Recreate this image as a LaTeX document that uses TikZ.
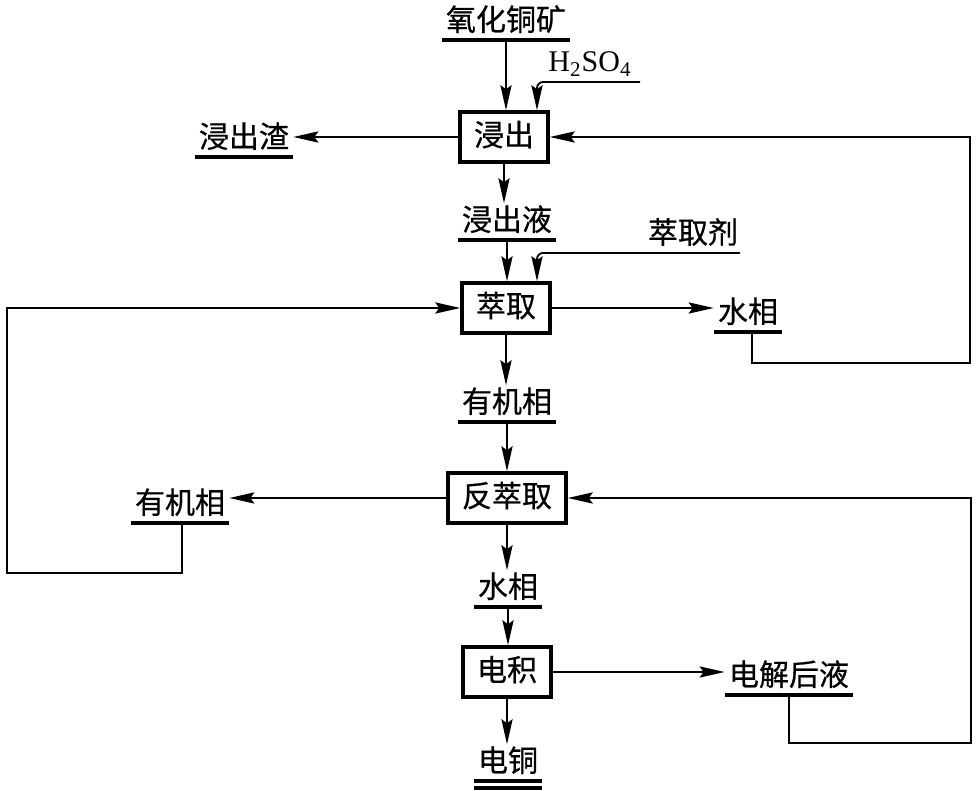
\documentclass[tikz,border=0pt]{standalone}
\usepackage{fontspec}
\setmainfont{Liberation Serif}
\newfontfamily\cjk[FakeBold=0.6]{Noto Sans CJK SC}
\usetikzlibrary{arrows.meta}

\begin{document}
\begin{tikzpicture}[x=0.5pt, y=-0.5pt, >={Stealth[length=12.5pt,width=5.6pt,inset=2pt]},
    every node/.style={font=\cjk\fontsize{15}{18}\selectfont},
    unit/.style={draw, line width=1.8pt, minimum height=25pt, inner xsep=7pt, text height=11pt, text depth=2pt},
    stream/.style={anchor=south, inner xsep=2pt, inner ysep=2.5pt, text height=11pt, text depth=2pt},
    flow/.style={line width=0.9pt},
    bar/.style={line width=1.6pt}]
    \useasboundingbox (0,0) rectangle (976,791);
    \node[unit] (leach) at (504,137) {浸出};
    \node[unit] (extr) at (506,308) {萃取};
    \node[unit] (strip) at (507,498) {反萃取};
    \node[unit] (ew) at (507,672) {电积};
    \node[stream] (ore) at (506,40) {氧化铜矿};
    \node[stream] (resid) at (244,157) {浸出渣};
    \node[stream] (pls) at (507,240) {浸出液};
    \node[stream] (aq1) at (748,332) {水相};
    \node[stream] (org1) at (507,422) {有机相};
    \node[stream] (org2) at (180,523) {有机相};
    \node[stream] (aq2) at (508,607) {水相};
    \node[stream] (spent) at (789,695) {电解后液};
    \node[stream] (cu) at (508,781) {电铜};
    \node[font=\rmfamily\fontsize{15}{18}\selectfont] (acid) at (590,64) {H\textsubscript{2}SO\textsubscript{4}};
    \node (reag) at (693,232) {萃取剂};
    \coordinate (acidend) at (640,82);
    \coordinate (reagend) at (740,253);
    \coordinate (east1) at (970,363);
    \coordinate (west1) at (7,573);
    \coordinate (east2) at (971,743);
    \foreach \n in {ore,resid,pls,aq1,org1,org2,aq2,spent,cu}
        \draw[bar] (\n.south west) -- (\n.south east);
    \draw[bar] ([yshift=-3.5pt]cu.south west) -- ([yshift=-3.5pt]cu.south east);
    \foreach \a/\b in {ore/leach,leach/pls,pls/extr,extr/org1,org1/strip,strip/aq2,aq2/ew,ew/cu}
        \draw[flow,->] (\a.south) -- (\a.south |- \b.north);
    \draw[flow,->] (leach.west) -- (resid.east |- leach.west);
    \draw[flow,->] (extr.east) -- (aq1.west |- extr.east);
    \draw[flow,->] (strip.west) -- (org2.east |- strip.west);
    \draw[flow,->] (ew.east) -- (spent.west |- ew.east);
    \draw[flow,->,rounded corners=3pt] (acidend) -| ([xshift=16.5pt]leach.north);
    \draw[flow,->,rounded corners=3pt] (reagend) -| ([xshift=15.5pt]extr.north);
    \draw[flow,->] ([xshift=2pt]aq1.south) |- (east1) |- (leach.east);
    \draw[flow,->] ([xshift=1pt]org2.south) |- (west1) |- (extr.west);
    \draw[flow,->] (spent.south) |- (east2) |- (strip.east);
\end{tikzpicture}
\end{document}
